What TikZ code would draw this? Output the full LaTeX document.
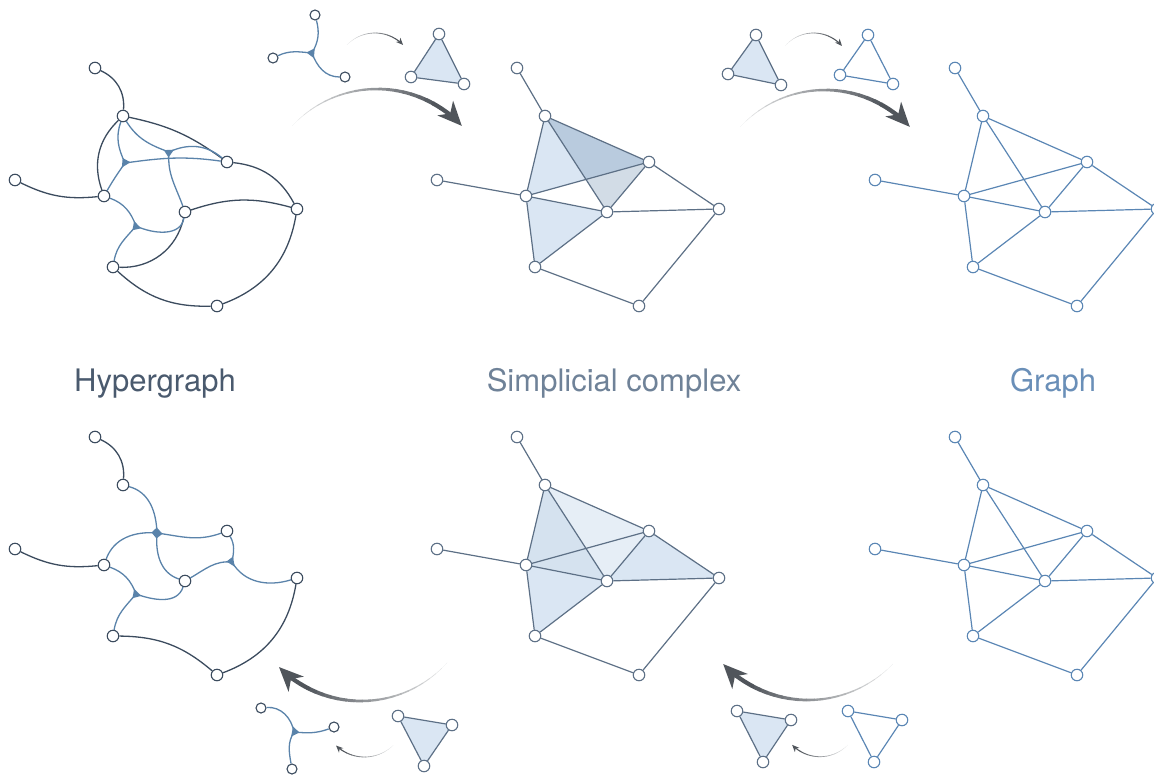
\documentclass[tikz,border=0pt]{standalone}
\usepackage{fontspec}
\setmainfont{TeX Gyre Heros}
\usetikzlibrary{calc,arrows.meta,backgrounds}

\definecolor{hypdark}{HTML}{3B4B5E}
\definecolor{hypblue}{HTML}{5A83AA}
\definecolor{simpline}{HTML}{5D7086}
\definecolor{graphblue}{HTML}{5A86B4}
\definecolor{simplight}{HTML}{DAE6F3}
\definecolor{simpdeep}{HTML}{7E9BB7}
\definecolor{simppale}{HTML}{E6EEF6}
\definecolor{simpmid}{HTML}{D5E2EF}
\definecolor{arrowgray}{HTML}{50555B}
\definecolor{labhyp}{HTML}{4A5A6E}
\definecolor{labsimp}{HTML}{6F8298}
\definecolor{labgraph}{HTML}{6A8FB8}

\newcommand{\layout}{a/95/68,b/123/116,c/15/180,d/104/196,e/227/162,f/185/212,g/297/209,h/113/267,i/217/306}
\newcommand{\graphedges}{a/b,c/d,b/d,b/e,b/f,d/e,d/f,e/f,e/g,f/g,d/h,f/h,h/i,i/g}

% small triangle where the arms of a hyperedge meet
\newcommand{\hjunction}[4]{%
	\fill[hypblue] ($(#1)+(#2:5.5)$) -- ($(#1)+(#3:5.5)$) -- ($(#1)+(#4:5.5)$) -- cycle;}

% arc arrow, thin and light at the start, thick and dark at the tip
\newcommand{\fadearrow}[7]{%
	\foreach \k in {0,...,19}{%
		\pgfmathsetmacro\angA{#3+(#4-#3)*\k/20}%
		\pgfmathsetmacro\angB{#3+(#4-#3)*(\k+1)/20}%
		\pgfmathsetmacro\lw{0.25+(#6-0.25)*\k/19}%
		\pgfmathsetmacro\pc{10+90*\k/19}%
		\draw[line width=\lw pt, arrowgray!\pc!white, line cap=round] ($(#1)+(\angA:#2)$) arc[start angle=\angA, end angle=\angB, radius=#2];
	}%
	\draw[line width=#6pt, arrowgray, -{Stealth[#7]}] ($(#1)+(#4:#2)$) arc[start angle=#4, end angle=#5, radius=#2];}

\begin{document}
\begin{tikzpicture}[x=1pt, y=1pt,
		hnode/.style={circle, draw=hypdark, fill=white, line width=1.1pt, inner sep=0pt, minimum size=11.5pt},
		snode/.style={hnode, draw=simpline},
		gnode/.style={hnode, draw=graphblue},
		hicon/.style={hnode, minimum size=10pt},
		hedge/.style={draw=hypdark, line width=1.3pt},
		harm/.style={draw=hypblue, line width=1.3pt},
		sedge/.style={draw=simpline, line width=1.2pt},
		gedge/.style={draw=graphblue, line width=1.2pt},
		label/.style={font=\fontsize{31}{34}\selectfont, anchor=base}]
	\useasboundingbox (0,0) rectangle (1154,-774);

	% the six panels
	\foreach \n/\x/\y in \layout {
		\node[hnode] (HT\n) at (\x,-\y) {};
		\node[snode] (ST\n) at (\x+422,-\y) {};
		\node[gnode] (GT\n) at (\x+860,-\y) {};
		\node[hnode] (HB\n) at (\x,-\y-369) {};
		\node[snode] (SB\n) at (\x+422,-\y-369) {};
		\node[gnode] (GB\n) at (\x+860,-\y-369) {};
	}

	% hypergraph, top
	\draw[hedge] (HTa) to[bend left=35] (HTb);
	\draw[hedge] (HTb) to[bend left=12] (HTe);
	\draw[hedge] (HTb) to[bend right=33] (HTd);
	\draw[hedge] (HTc) to[bend right=16] (HTd);
	\draw[hedge] (HTe) to[bend left=28] (HTg);
	\draw[hedge] (HTf) to[bend left=17] (HTg);
	\draw[hedge] (HTf) to[bend left=40] (HTh);
	\draw[hedge] (HTh) to[bend right=22] (HTi);
	\draw[hedge] (HTi) to[bend right=30] (HTg);
	\coordinate (HTj1) at (125,-163);
	\coordinate (HTj2) at (169,-152);
	\coordinate (HTj3) at (136,-226);
	\draw[harm] (HTj1) to[out=115,in=250] (HTb);
	\draw[harm] (HTj1) to[out=235,in=60] (HTd);
	\draw[harm] (HTj1) to[out=8,in=172] (HTe);
	\draw[harm] (HTj2) to[out=160,in=-58] (HTb);
	\draw[harm] (HTj2) to[out=25,in=140] (HTe);
	\draw[harm] (HTj2) to[out=265,in=110] (HTf);
	\draw[harm] (HTj3) to[out=110,in=-20] (HTd);
	\draw[harm] (HTj3) to[out=-25,in=-100] (HTf);
	\draw[harm] (HTj3) to[out=230,in=80] (HTh);
	\hjunction{HTj1}{115}{235}{8}
	\hjunction{HTj2}{160}{265}{25}
	\hjunction{HTj3}{110}{230}{-25}

	% hypergraph, bottom
	\draw[hedge] (HBa) to[bend left=35] (HBb);
	\draw[hedge] (HBc) to[bend right=16] (HBd);
	\draw[hedge] (HBh) to[bend left=20] (HBi);
	\draw[hedge] (HBi) to[bend right=30] (HBg);
	\coordinate (HBj1) at (157,-533);
	\coordinate (HBj2) at (232,-562);
	\coordinate (HBj3) at (136,-594);
	\draw[harm] (HBj1) to[out=92,in=-15] (HBb);
	\draw[harm] (HBj1) to[out=175,in=70] (HBd);
	\draw[harm] (HBj1) to[out=-8,in=200] (HBe);
	\draw[harm] (HBj1) to[out=265,in=162] (HBf);
	\draw[harm] (HBj2) to[out=80,in=-60] (HBe);
	\draw[harm] (HBj2) to[out=175,in=30] (HBf);
	\draw[harm] (HBj2) to[out=-60,in=197] (HBg);
	\draw[harm] (HBj3) to[out=110,in=-20] (HBd);
	\draw[harm] (HBj3) to[out=-20,in=-108] (HBf);
	\draw[harm] (HBj3) to[out=230,in=80] (HBh);
	\fill[hypblue] ($(HBj1)+(92:5.5)$) -- ($(HBj1)+(175:5.5)$) -- ($(HBj1)+(265:5.5)$) -- ($(HBj1)+(-8:5.5)$) -- cycle;
	\hjunction{HBj2}{80}{175}{-60}
	\hjunction{HBj3}{110}{230}{-20}

	% simplicial complexes and graphs
	\begin{scope}[on background layer]
		\fill[simplight] (STb.center) -- (STd.center) -- (STe.center) -- cycle;
		\fill[simpdeep, fill opacity=0.35] (STb.center) -- (STe.center) -- (STf.center) -- cycle;
		\fill[simplight] (STd.center) -- (STf.center) -- (STh.center) -- cycle;
		\fill[simppale] (SBb.center) -- (SBe.center) -- (SBf.center) -- (SBd.center) -- cycle;
		\fill[simpmid] (SBb.center) -- (SBd.center) -- (SBf.center) -- cycle;
		\fill[simplight] (SBe.center) -- (SBf.center) -- (SBg.center) -- cycle;
		\fill[simplight] (SBd.center) -- (SBf.center) -- (SBh.center) -- cycle;
	\end{scope}
	\foreach \u/\v in \graphedges {
		\draw[sedge] (ST\u) -- (ST\v);
		\draw[sedge] (SB\u) -- (SB\v);
		\draw[gedge] (GT\u) -- (GT\v);
		\draw[gedge] (GB\u) -- (GB\v);
	}

	% titles
	\node[label, text=labhyp] (hyplabel) at (155,-391) {Hypergraph};
	\node[label, text=labsimp] (simplabel) at (614,-391) {Simplicial complex};
	\node[label, text=labgraph] (graphlabel) at (1053,-391) {Graph};

	% small examples, top
	\node[hicon] (ia1) at (315,-15) {};
	\node[hicon] (ia2) at (273,-58) {};
	\node[hicon] (ia3) at (345,-77) {};
	\coordinate (ja) at (312,-53);
	\draw[harm] (ja) to[out=60,in=-75] (ia1);
	\draw[harm] (ja) to[out=175,in=25] (ia2);
	\draw[harm] (ja) to[out=-70,in=180] (ia3);
	\hjunction{ja}{60}{175}{-70}
	\node[snode] (ib1) at (439,-34) {};
	\node[snode] (ib2) at (411,-77) {};
	\node[snode] (ib3) at (464,-84) {};
	\node[snode] (ic1) at (756,-35) {};
	\node[snode] (ic2) at (728,-74) {};
	\node[snode] (ic3) at (781,-85) {};
	\node[gnode] (id1) at (868,-35) {};
	\node[gnode] (id2) at (840,-75) {};
	\node[gnode] (id3) at (893,-84) {};

	% small examples, bottom
	\node[hicon] (ie1) at (261,-708) {};
	\node[hicon] (ie2) at (334,-727) {};
	\node[hicon] (ie3) at (292,-769) {};
	\coordinate (je) at (294,-732);
	\draw[harm] (je) to[out=100,in=5] (ie1);
	\draw[harm] (je) to[out=-5,in=200] (ie2);
	\draw[harm] (je) to[out=238,in=100] (ie3);
	\hjunction{je}{100}{238}{-5}
	\node[snode] (if1) at (398,-716) {};
	\node[snode] (if2) at (452,-725) {};
	\node[snode] (if3) at (424,-766) {};
	\node[snode] (ig1) at (737,-711) {};
	\node[snode] (ig2) at (791,-720) {};
	\node[snode] (ig3) at (763,-762) {};
	\node[gnode] (ih1) at (848,-711) {};
	\node[gnode] (ih2) at (902,-720) {};
	\node[gnode] (ih3) at (874,-762) {};

	\begin{scope}[on background layer]
		\fill[simplight] (ib1.center) -- (ib2.center) -- (ib3.center) -- cycle;
		\fill[simplight] (ic1.center) -- (ic2.center) -- (ic3.center) -- cycle;
		\fill[simplight] (if1.center) -- (if2.center) -- (if3.center) -- cycle;
		\fill[simplight] (ig1.center) -- (ig2.center) -- (ig3.center) -- cycle;
	\end{scope}
	\foreach \t in {ib,ic,if,ig} \draw[sedge] (\t1) -- (\t2) -- (\t3) -- (\t1);
	\foreach \t in {id,ih} \draw[gedge] (\t1) -- (\t2) -- (\t3) -- (\t1);

	% arrows
	\coordinate (ca) at (377,-205);
	\coordinate (cb) at (825,-206);
	\coordinate (cc) at (361,-585);
	\coordinate (cd) at (808,-582);
	\fadearrow{ca}{116}{137}{57}{43}{4.2}{length=24pt,width=21pt,inset=7pt}
	\fadearrow{cb}{116}{137}{57}{43}{4.2}{length=24pt,width=21pt,inset=7pt}
	\fadearrow{cc}{116}{-42}{-121}{-135}{4.2}{length=24pt,width=21pt,inset=7pt}
	\fadearrow{cd}{118}{-44}{-122}{-136}{4.2}{length=24pt,width=21pt,inset=7pt}
	\coordinate (sa) at (375,-72);
	\coordinate (sb) at (813.5,-70.7);
	\coordinate (sc) at (364.5,-716);
	\coordinate (sd) at (820,-718);
	\fadearrow{sa}{39}{136}{55}{44}{1.1}{length=7pt,width=6pt,inset=2pt}
	\fadearrow{sb}{37.7}{139}{54}{41}{1.1}{length=7pt,width=6pt,inset=2pt}
	\fadearrow{sc}{41}{-45.5}{-124}{-134}{1.1}{length=7pt,width=6pt,inset=2pt}
	\fadearrow{sd}{38.7}{-44}{-125}{-136}{1.1}{length=7pt,width=6pt,inset=2pt}
\end{tikzpicture}
\end{document}
